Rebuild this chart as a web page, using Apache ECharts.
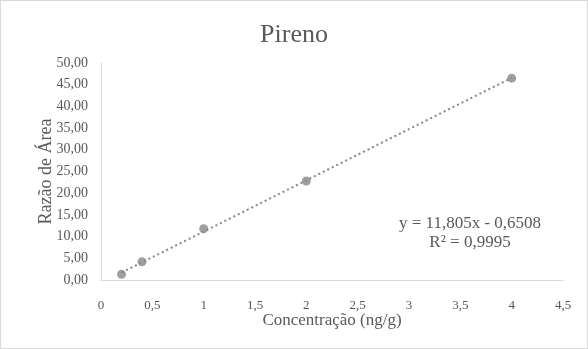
<!DOCTYPE html>
<html><head><meta charset="utf-8">
<script src="https://cdn.jsdelivr.net/npm/echarts@6/dist/echarts.min.js"></script>
<style>html,body{margin:0;padding:0;background:#fff}#c{width:586px;height:347px;border:1px solid #d9d9d9}</style>
</head><body><div id="c"></div>
<script>
var concentrations = [0.2, 0.4, 1, 2, 4];
var areaRatios = [1.3, 4.2, 11.8, 22.8, 46.5];
var slope = 11.805;
var intercept = -0.6508;
var r2Text = '0,9995';
var titleText = 'Pireno';
var xName = 'Concentração (ng/g)';
var yName = 'Razão de Área';
var trendX = [concentrations[0], concentrations[concentrations.length - 1]];
var trendData = trendX.map(function (x) { return [x, slope * x + intercept]; });
var points = concentrations.map(function (x, i) { return [x, areaRatios[i]]; });
var font = 'Liberation Serif';
var txt = '#595959';
var chart = echarts.init(document.getElementById('c'));
chart.setOption({
  animation: false,
  textStyle: { fontFamily: font },
  title: { text: titleText, left: 'center', top: 16, textStyle: { fontFamily: font, fontSize: 26, fontWeight: 'normal', color: txt } },
  grid: { left: 100, right: 24, top: 62, bottom: 68, containLabel: false },
  xAxis: {
    type: 'value', min: 0, max: 4.5, interval: 0.5,
    name: xName, nameLocation: 'middle', nameGap: 32, nameMoveOverlap: false,
    nameTextStyle: { fontFamily: font, fontSize: 17, color: txt },
    axisLine: { show: true, lineStyle: { color: '#d9d9d9' } },
    axisTick: { show: false }, splitLine: { show: false },
    axisLabel: { color: txt, fontFamily: font, fontSize: 13, margin: 19,
      formatter: function (v) { return String(v).replace('.', ','); } }
  },
  yAxis: {
    type: 'value', min: 0, max: 50, interval: 5,
    name: yName, nameLocation: 'middle', nameGap: 46, nameMoveOverlap: false,
    nameTextStyle: { fontFamily: font, fontSize: 18, color: txt },
    axisLine: { show: true, lineStyle: { color: '#d9d9d9' } },
    axisTick: { show: false }, splitLine: { show: false },
    axisLabel: { color: txt, fontFamily: font, fontSize: 14, margin: 13,
      formatter: function (v) { return v.toFixed(2).replace('.', ','); } }
  },
  series: [
    { type: 'line', data: trendData, showSymbol: false, symbol: 'none', silent: true,
      lineStyle: { color: '#878787', width: 2, type: [2, 3] }, z: 1 },
    { type: 'scatter', data: points, symbolSize: 9, itemStyle: { color: '#878787' }, z: 2 }
  ],
  graphic: [
    { type: 'text', x: 469, y: 223, style: { text: 'y = ' + String(slope).replace('.', ',') + 'x - ' + String(-intercept).replace('.', ','), fill: txt, font: '17px "Liberation Serif"', align: 'center', verticalAlign: 'middle' } },
    { type: 'text', x: 469, y: 242, style: { text: 'R² = ' + r2Text, fill: txt, font: '17px "Liberation Serif"', align: 'center', verticalAlign: 'middle' } }
  ]
});
</script></body></html>
